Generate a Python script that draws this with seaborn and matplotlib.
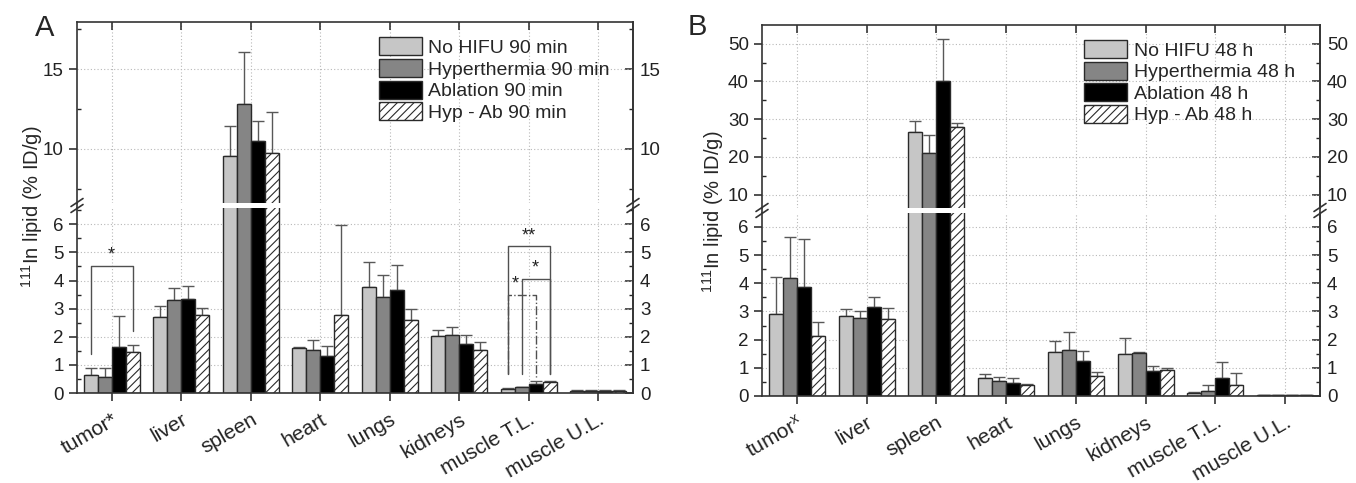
import numpy as np
import pandas as pd
import matplotlib
matplotlib.use("Agg")
import matplotlib.pyplot as plt
import seaborn as sns
from matplotlib.ticker import MultipleLocator, FixedLocator
from matplotlib.lines import Line2D

organs = ["tumor", "liver", "spleen", "heart", "lungs", "kidneys", "muscle T.L.", "muscle U.L."]
labels_a = ["tumor*", "liver", "spleen", "heart", "lungs", "kidneys", "muscle T.L.", "muscle U.L."]
labels_b = ["tumor$^{x}$", "liver", "spleen", "heart", "lungs", "kidneys", "muscle T.L.", "muscle U.L."]

groups_a = ["No HIFU 90 min", "Hyperthermia 90 min", "Ablation 90 min", "Hyp - Ab 90 min"]
groups_b = ["No HIFU 48 h", "Hyperthermia 48 h", "Ablation 48 h", "Hyp - Ab 48 h"]

# panel A, 90 min (mean, upper sd)
a_nohifu = [0.65, 2.70, 9.56, 1.61, 3.76, 2.04, 0.14, 0.08]
a_nohifu_sd = [0.24, 0.41, 1.88, 0.03, 0.89, 0.21, 0.04, 0.02]
a_hyper = [0.56, 3.30, 12.79, 1.53, 3.42, 2.08, 0.21, 0.07]
a_hyper_sd = [0.33, 0.44, 3.29, 0.36, 0.78, 0.28, 0.02, 0.02]
a_abl = [1.64, 3.33, 10.48, 1.32, 3.68, 1.74, 0.32, 0.08]
a_abl_sd = [1.10, 0.49, 1.29, 0.34, 0.86, 0.31, 0.10, 0.02]
a_hypab = [1.45, 2.79, 9.75, 2.79, 2.59, 1.54, 0.38, 0.08]
a_hypab_sd = [0.27, 0.22, 2.54, 3.19, 0.41, 0.29, 0.06, 0.03]

# panel B, 48 h
b_nohifu = [2.90, 2.83, 26.7, 0.64, 1.55, 1.50, 0.12, 0.03]
b_nohifu_sd = [1.31, 0.24, 2.8, 0.13, 0.41, 0.55, 0.02, 0.01]
b_hyper = [4.20, 2.78, 21.0, 0.52, 1.63, 1.54, 0.19, 0.03]
b_hyper_sd = [1.44, 0.24, 4.9, 0.16, 0.64, 0.01, 0.21, 0.01]
b_abl = [3.85, 3.17, 40.0, 0.45, 1.25, 0.90, 0.64, 0.03]
b_abl_sd = [1.72, 0.33, 11.3, 0.19, 0.33, 0.16, 0.56, 0.01]
b_hypab = [2.14, 2.74, 27.8, 0.40, 0.71, 0.92, 0.39, 0.02]
b_hypab_sd = [0.49, 0.39, 1.1, 0.02, 0.15, 0.06, 0.42, 0.01]

# significance brackets in A: organ, bar from, bar to, top, left foot, right foot, text, style
sig_a = [
    (0, 0, 3, 4.52, 1.40, 2.21, "*", "-", 0.5),
    (6, 0, 3, 5.22, 0.69, 0.69, "**", "-", 0.5),
    (6, 1, 3, 4.05, 0.69, 0.69, "*", "-", 0.5),
    (6, 0, 2, 3.50, 0.69, 0.57, "*", "-.", 0.27),
]

colors = ["#c6c6c6", "#858585", "#000000", "#ffffff"]
edge = "#2a2a2a"
W, H = 1356, 483

sns.set_style("ticks")
plt.rcParams["font.family"] = ["Liberation Sans", "DejaVu Sans"]
plt.rcParams["mathtext.fontset"] = "custom"
plt.rcParams["mathtext.rm"] = "Liberation Sans"
plt.rcParams["mathtext.it"] = "Liberation Sans"
plt.rcParams["hatch.linewidth"] = 0.8
plt.rcParams["hatch.color"] = edge

fig = plt.figure(figsize=(W / 100, H / 100), dpi=100)


def px_axes(x0, x1, ytop, ybot):
    return fig.add_axes([x0 / W, 1 - ybot / H, (x1 - x0) / W, (ybot - ytop) / H])


def in_range(step, lim):
    t = np.arange(0, lim[1] + 1e-9, step)
    return [v for v in t if lim[0] <= v <= lim[1]]


def draw_panel(ax_up, ax_lo, groups, series, sds, labels, lo_lim, up_lim, up_major, up_minor, leg_pos):
    df = pd.DataFrame({
        "organ": organs * 4,
        "group": np.repeat(groups, len(organs)),
        "value": np.concatenate(series),
    })
    bars = {}
    for ax in (ax_up, ax_lo):
        sns.barplot(data=df, x="organ", y="value", hue="group", order=organs,
                    hue_order=groups, palette=dict(zip(groups, colors)),
                    edgecolor=edge, linewidth=1, width=0.8, errorbar=None,
                    legend=False, ax=ax, zorder=2)
        conts = list(ax.containers[:4])
        bars[ax] = conts
        for p in conts[3].patches:
            p.set_hatch("////")
        for cont, vals, sd in zip(conts, series, sds):
            xs = [p.get_x() + p.get_width() / 2 for p in cont.patches]
            ax.errorbar(xs, vals, yerr=[np.zeros(len(vals)), sd], fmt="none",
                        ecolor="#585858", elinewidth=1, capsize=4, capthick=1, zorder=1.5)
        ax.set_xlim(-0.5, 7.5)
        ax.set_xlabel("")
        ax.set_ylabel("")
        ax.set_axisbelow(True)
        ax.grid(True, which="major", ls=(0, (1, 2)), color="#b8b8b8", lw=0.8)
        for s in ax.spines.values():
            s.set_linewidth(1.2)
            s.set_color("#333333")

    ax_lo.set_ylim(*lo_lim)
    ax_up.set_ylim(*up_lim)

    ax_up.spines["bottom"].set_visible(False)
    ax_lo.spines["top"].set_visible(False)
    ax_up.xaxis.tick_top()
    ax_up.tick_params(axis="x", direction="in", length=6, width=1.1, labeltop=False)
    ax_lo.set_xticks(range(len(organs)))
    ax_lo.set_xticklabels(labels, rotation=30, ha="right", rotation_mode="anchor")
    ax_lo.tick_params(axis="x", direction="out", length=6, width=1.1, labelsize=15,
                      pad=6, colors="#222222")

    for ax, maj, mnr, lim in ((ax_lo, 1, 0.5, lo_lim), (ax_up, up_major, up_minor, up_lim)):
        ax.yaxis.set_major_locator(FixedLocator(in_range(maj, lim)))
        ax.yaxis.set_minor_locator(FixedLocator(in_range(mnr, lim)))
        ax.tick_params(axis="y", which="major", direction="out", length=6, width=1.1,
                       labelsize=13.5, colors="#222222")
        ax.tick_params(axis="y", which="minor", direction="in", length=3, width=1, left=True)
        sec = ax.secondary_yaxis("right")
        sec.yaxis.set_major_locator(FixedLocator(in_range(maj, lim)))
        sec.yaxis.set_minor_locator(FixedLocator(in_range(mnr, lim)))
        sec.tick_params(which="major", direction="in", length=6, width=1.1, labelsize=13.5,
                        pad=5, colors="#222222")
        sec.tick_params(which="minor", direction="in", length=3, width=1)
        sec.spines["right"].set_linewidth(1.2)
        sec.spines["right"].set_color("#333333")

    # break marks on both spines
    up, lo = ax_up.get_position(), ax_lo.get_position()
    ymid = (up.y0 + lo.y1) / 2
    dx, dy, off = 6 / W, 4 / H, 3 / H
    for x in (up.x0, up.x1):
        fig.add_artist(Line2D([x, x], [lo.y1, up.y0], transform=fig.transFigure,
                              color="#333333", lw=1.2))
        for o in (-off, off):
            fig.add_artist(Line2D([x - dx, x + dx], [ymid - dy + o, ymid + dy + o],
                                  transform=fig.transFigure, color="#333333", lw=1.2))

    ax_up.legend(handles=[c.patches[0] for c in bars[ax_up]], labels=groups,
                 frameon=False, fontsize=14, handlelength=2.2, handleheight=1.05,
                 labelspacing=0.1, handletextpad=0.35, borderpad=0, borderaxespad=0,
                 loc="upper left", bbox_to_anchor=leg_pos)
    return bars[ax_lo]


ax_a_up = px_axes(77, 633, 22, 203)
ax_a_lo = px_axes(77, 633, 208, 393)
ax_b_up = px_axes(762, 1320, 25, 208)
ax_b_lo = px_axes(762, 1320, 213, 396)

bars_a = draw_panel(ax_a_up, ax_a_lo, groups_a, [a_nohifu, a_hyper, a_abl, a_hypab],
                    [a_nohifu_sd, a_hyper_sd, a_abl_sd, a_hypab_sd], labels_a,
                    (0, 6.58), (6.62, 17.94), 5, 2.5, (0.543, 0.915))
draw_panel(ax_b_up, ax_b_lo, groups_b, [b_nohifu, b_hyper, b_abl, b_hypab],
           [b_nohifu_sd, b_hyper_sd, b_abl_sd, b_hypab_sd], labels_b,
           (0, 6.49), (6.42, 54.96), 10, 5, (0.577, 0.918))

# significance brackets
for organ, i, j, top, lf, rf, txt, ls, frac in sig_a:
    xl = bars_a[i].patches[organ]
    xr = bars_a[j].patches[organ]
    x1 = xl.get_x() + xl.get_width() / 2
    x2 = xr.get_x() + xr.get_width() / 2
    ax_a_lo.plot([x1, x1, x2, x2], [lf, top, top, rf], ls=ls, color="#505050", lw=1, zorder=3)
    ax_a_lo.text(x1 + frac * (x2 - x1), top + 0.38, txt, ha="center", va="center",
                 fontsize=13, color="#222222")

ylab = "$^{111}$In lipid (% ID/g)"
fig.text(32 / W, 1 - 207 / H, ylab, rotation=90, ha="center", va="center", fontsize=14.5)
fig.text(713 / W, 1 - 212 / H, ylab, rotation=90, ha="center", va="center", fontsize=14.5)
fig.text(35 / W, 1 - 36 / H, "A", fontsize=21, va="baseline")
fig.text(688 / W, 1 - 35 / H, "B", fontsize=21, va="baseline")

fig.savefig("out.png", dpi=100)
